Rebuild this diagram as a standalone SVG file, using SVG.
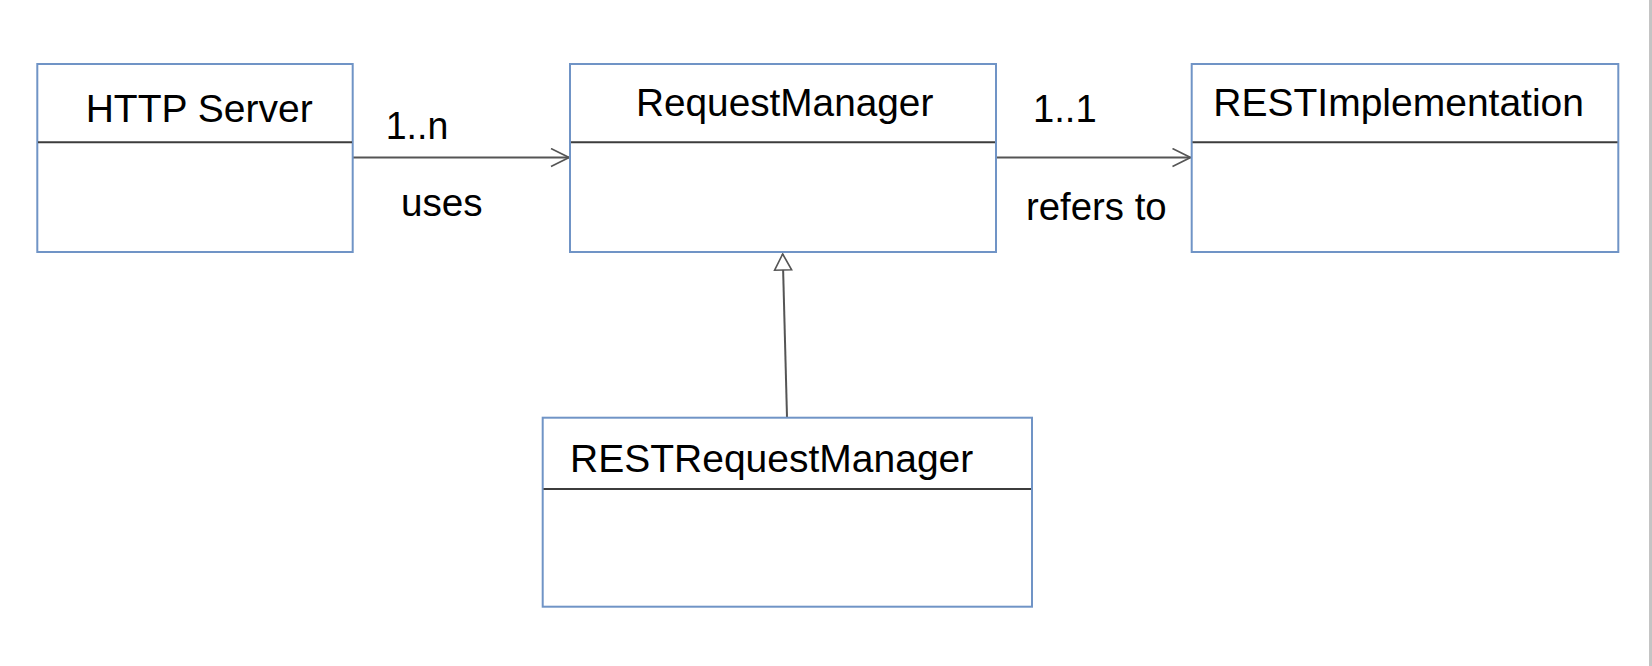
<svg xmlns="http://www.w3.org/2000/svg" width="1652" height="666" viewBox="0 0 1652 666">
  <style>
    .box { fill: #ffffff; stroke: #7094c6; stroke-width: 2; }
    .div { stroke: #3c3c3c; stroke-width: 2; }
    .name { font-family: "Liberation Sans", Arial, sans-serif; fill: #000000; font-size: 38.6px; }
    .lbl { font-family: "Liberation Sans", Arial, sans-serif; fill: #000000; font-size: 38.5px; }
    .conn { stroke: #555555; stroke-width: 2; fill: none; }
  </style>
  <defs>
    <marker id="open" markerUnits="userSpaceOnUse" viewBox="0 0 20 20" refX="19" refY="10" markerWidth="20" markerHeight="20" orient="auto">
      <path d="M1,1 L19,10 L1,19" fill="none" stroke="#555555" stroke-width="1.6"/>
    </marker>
    <marker id="tri" markerUnits="userSpaceOnUse" viewBox="0 0 20 20" refX="18" refY="10" markerWidth="20" markerHeight="20" orient="auto">
      <path d="M2,1.5 L18,10 L2,18.5 Z" fill="#ffffff" stroke="#555555" stroke-width="1.6"/>
    </marker>
  </defs>
  <rect x="0" y="0" width="1652" height="666" fill="#ffffff"/>
  <rect x="1649" y="0" width="3" height="666" fill="#c4c4c4"/>

  <g id="connectors">
    <line class="conn" x1="353" y1="157.5" x2="569" y2="157.5" marker-end="url(#open)"/>
    <line class="conn" x1="996" y1="157.5" x2="1190.5" y2="157.5" marker-end="url(#open)"/>
    <line class="conn" x1="787" y1="417" x2="782.7" y2="254" marker-end="url(#tri)"/>
    <text class="lbl" x="385.7" y="138.7" textLength="62.6" lengthAdjust="spacingAndGlyphs">1..n</text>
    <text class="lbl" x="401" y="215.7" textLength="81.7" lengthAdjust="spacingAndGlyphs">uses</text>
    <text class="lbl" x="1033" y="122.3" textLength="63.7" lengthAdjust="spacingAndGlyphs">1..1</text>
    <text class="lbl" x="1026" y="220" textLength="140.7" lengthAdjust="spacingAndGlyphs">refers to</text>
  </g>

  <g id="http-server">
    <rect class="box" x="37.3" y="64" width="315.4" height="188"/>
    <line class="div" x1="38" y1="142.3" x2="352" y2="142.3"/>
    <text class="name" x="85.7" y="122.3" textLength="227" lengthAdjust="spacingAndGlyphs">HTTP Server</text>
  </g>

  <g id="request-manager">
    <rect class="box" x="570" y="64" width="426" height="188"/>
    <line class="div" x1="571" y1="142.3" x2="995" y2="142.3"/>
    <text class="name" x="636" y="116" textLength="297.3" lengthAdjust="spacingAndGlyphs">RequestManager</text>
  </g>

  <g id="rest-implementation">
    <rect class="box" x="1191.7" y="64" width="426.6" height="188"/>
    <line class="div" x1="1192.5" y1="142.3" x2="1617.5" y2="142.3"/>
    <text class="name" x="1213.3" y="116" textLength="370.7" lengthAdjust="spacingAndGlyphs">RESTImplementation</text>
  </g>

  <g id="rest-request-manager">
    <rect class="box" x="542.7" y="417.7" width="489.3" height="189"/>
    <line class="div" x1="543.5" y1="489" x2="1031" y2="489"/>
    <text class="name" x="570" y="471.7" textLength="403.3" lengthAdjust="spacingAndGlyphs">RESTRequestManager</text>
  </g>
</svg>
